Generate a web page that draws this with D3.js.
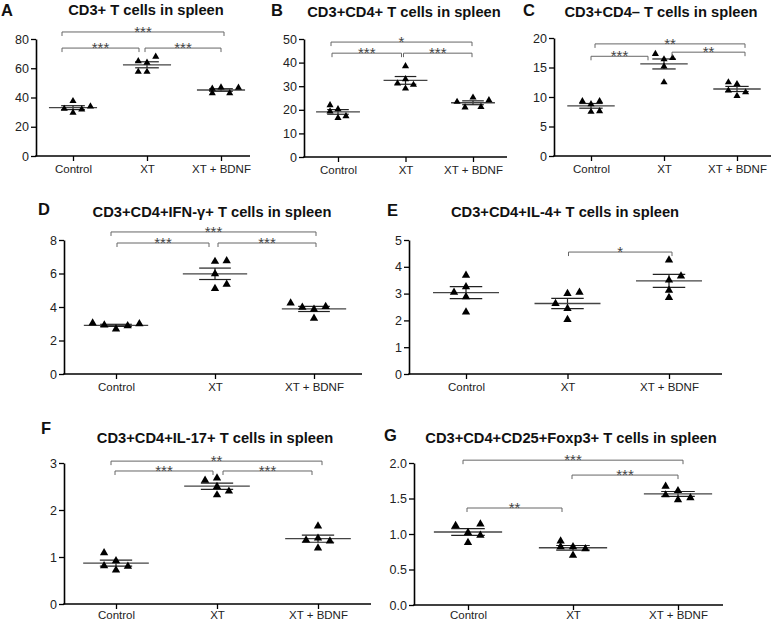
<!DOCTYPE html>
<html><head><meta charset="utf-8">
<script src="https://cdn.jsdelivr.net/npm/d3@7"></script>
<style>body{margin:0;background:#fff} svg{display:block}</style>
</head><body><svg id="c" width="774" height="622"></svg>
<script>
// ---------------- DATA ----------------
const categories = ["Control", "XT", "XT + BDNF"];
const panelLetters = ["A", "B", "C", "D", "E", "F", "G"];
const panelTitles = [
  "CD3+ T cells in spleen",
  "CD3+CD4+ T cells in spleen",
  "CD3+CD4\u2013 T cells in spleen",
  "CD3+CD4+IFN-\u03b3+ T cells in spleen",
  "CD3+CD4+IL-4+ T cells in spleen",
  "CD3+CD4+IL-17+ T cells in spleen",
  "CD3+CD4+CD25+Foxp3+ T cells in spleen"
];
const yMax = [80, 50, 20, 8, 5, 3, 2];
const yTickStep = [20, 10, 5, 2, 1, 1, 0.5];
const yTickFormat = ["d", "d", "d", "d", "d", "d", ".1f"];

const valuesA = [[37.6, 32.3, 31.9, 29.6, 33.9], [64.9, 63.8, 67.9, 57.6, 57.6], [46.0, 46.9, 46.7, 43.0, 43.0]];
const valuesB = [[22.0, 20.3, 19.3, 16.6, 17.3], [38.5, 33.0, 31.2, 30.6, 29.0], [23.4, 25.2, 24.1, 21.0, 21.2]];
const valuesC = [[9.3, 8.8, 9.3, 7.5, 7.6], [17.3, 16.4, 16.6, 15.2, 12.5], [12.5, 12.2, 11.1, 10.8, 10.2]];
const valuesD = [[3.04, 2.92, 2.68, 2.88, 3.0], [6.72, 6.76, 5.98, 5.1, 5.35], [4.24, 3.98, 3.86, 4.02, 3.32]];
const valuesE = [[3.05, 3.68, 3.25, 2.88, 2.31], [2.63, 3.0, 3.05, 2.44, 2.03], [4.25, 3.5, 3.65, 3.12, 2.85]];
const valuesF = [[1.09, 0.92, 0.81, 0.72, 0.8], [2.63, 2.68, 2.5, 2.4, 2.32], [1.66, 1.36, 1.4, 1.34, 1.19]];
const valuesG = [[1.12, 1.14, 1.02, 0.98, 0.88], [0.9, 0.82, 0.82, 0.79, 0.7], [1.67, 1.55, 1.61, 1.48, 1.51]];
const allValues = [valuesA, valuesB, valuesC, valuesD, valuesE, valuesF, valuesG];

// significance brackets: group a vs group b, bracket height in data units, label
const sigA = [{a: 0, b: 1, y: 73.8, label: "***"}, {a: 1, b: 2, y: 73.8, label: "***"}, {a: 0, b: 2, y: 84.8, label: "***"}];
const sigB = [{a: 0, b: 1, y: 44.0, label: "***"}, {a: 1, b: 2, y: 44.0, label: "***"}, {a: 0, b: 2, y: 48.7, label: "*"}];
const sigC = [{a: 0, b: 1, y: 16.9, label: "***"}, {a: 1, b: 2, y: 17.6, label: "**"}, {a: 0, b: 2, y: 19.0, label: "**"}];
const sigD = [{a: 0, b: 1, y: 7.82, label: "***"}, {a: 1, b: 2, y: 7.82, label: "***"}, {a: 0, b: 2, y: 8.48, label: "***"}];
const sigE = [{a: 1, b: 2, y: 4.55, label: "*"}];
const sigF = [{a: 0, b: 1, y: 2.83, label: "***"}, {a: 1, b: 2, y: 2.83, label: "***"}, {a: 0, b: 2, y: 3.04, label: "**"}];
const sigG = [{a: 0, b: 1, y: 1.366, label: "**"}, {a: 1, b: 2, y: 1.83, label: "***"}, {a: 0, b: 2, y: 2.04, label: "***"}];
const allSig = [sigA, sigB, sigC, sigD, sigE, sigF, sigG];

// ---------------- LAYOUT (positions/styles) ----------------
const layout = [
  {x0: 36,  x1: 250, c0: 73,  c2: 221, yt: 39,  yb: 156, tx: 146, ty: 15,  lx: 1,   ly: 15.5, sym: 22, xpad: 4},
  {x0: 304, x1: 507, c0: 338, c2: 473, yt: 39,  yb: 157, tx: 404, ty: 17,  lx: 271, ly: 15.5, sym: 22, xpad: 4},
  {x0: 554, x1: 771, c0: 591, c2: 737, yt: 38,  yb: 156, tx: 661, ty: 17,  lx: 523, ly: 15.5, sym: 22, xpad: 4},
  {x0: 64,  x1: 362, c0: 116, c2: 314, yt: 240, yb: 374, tx: 212, ty: 217, lx: 38,  ly: 215, sym: 30, xpad: 4},
  {x0: 409, x1: 722, c0: 466, c2: 669, yt: 240, yb: 374, tx: 565, ty: 217, lx: 387, ly: 216, sym: 30, xpad: 4},
  {x0: 64,  x1: 371, c0: 116, c2: 318, yt: 463, yb: 604, tx: 215, ty: 443, lx: 41,  ly: 434, sym: 30, xpad: 1.5},
  {x0: 414, x1: 723, c0: 468, c2: 678, yt: 463, yb: 605, tx: 571, ty: 443, lx: 384, ly: 441, sym: 30, xpad: 0.5}
];
// horizontal dodge slots of each point (Prism-like scatter)
const dodge = [
  [[0, -1, 1, 0, 2], [-1, 0, 1, -1, 0], [-1, 0, 2, -1, 1]],
  [[-1, 0, -1, 0, 1], [0, 0, -1, 1, 0], [-2, 0, 2, -1, 1]],
  [[-1, 0, 1, 0, 1], [-1, 0, 1, 0, 0], [-1, 0, -1, 1, 0]],
  [[-2, -1, 0, 1, 2], [0, 1, 0, 0, 1], [-2, -1, 0, 1, 0]],
  [[-1, 0, 0, 0, 0], [-1, 0, 1, 0, 0], [0, 0, 1, 0, 0]],
  [[-1, 0, -1, 0, 1], [-1, 0, 0, 1, 0], [0, -1, 0, 1, 0]],
  [[-1, 1, 0, 1, 0], [-1, -1, 0, 1, 0], [-1, -1, 0, 0, 1]]
];
// bracket end nudges in px [left, right]
const sigNudge = [
  [[-11, -8], [-2, 0], [-11, 3]],
  [[-6, -4], [-2, -1], [-7, -1]],
  [[0, -16], [8, 8], [4, 8]],
  [[1, -6], [3, 2], [-5, 2]],
  [[1, 3]],
  [[-1, -4], [6, -6], [-5, 4]],
  [[-1, -11], [-1, 0], [-5, 5]]
];

const FONT = "'Liberation Sans', Arial, Helvetica, sans-serif";
const svg = d3.select("#c");

allValues.forEach((vals, p) => {
  const L = layout[p];
  const g = svg.append("g");
  const x = d3.scalePoint().domain(categories).range([L.c0, L.c2]);
  const step = x.step();
  const y = d3.scaleLinear().domain([0, yMax[p]]).range([L.yb, L.yt]);
  const ticks = d3.range(0, yMax[p] + yTickStep[p] / 2, yTickStep[p]);

  // y axis
  const ya = g.append("g").attr("transform", `translate(${L.x0},0)`)
    .call(d3.axisLeft(y).tickValues(ticks).tickFormat(d3.format(yTickFormat[p])).tickSize(5).tickSizeOuter(0).tickPadding(2));
  ya.select(".domain").attr("stroke", "#000").attr("stroke-width", 1.6);
  ya.selectAll(".tick line").attr("stroke", "#000").attr("stroke-width", 1.3);
  ya.selectAll(".tick text").attr("font-family", FONT).attr("font-size", 12.5).attr("fill", "#222");

  // x axis
  const xa = g.append("g").attr("transform", `translate(0,${L.yb})`)
    .call(d3.axisBottom(x).tickSize(5).tickSizeOuter(0).tickPadding(L.xpad));
  xa.select(".domain").attr("d", `M${L.x0 - 0.8},0H${L.x1}`).attr("stroke", "#000").attr("stroke-width", 1.6);
  xa.selectAll(".tick line").attr("stroke", "#000").attr("stroke-width", 1.3);
  xa.selectAll(".tick text").attr("font-family", FONT).attr("font-size", 11.5).attr("fill", "#222");

  // title and letter
  g.append("text").attr("x", L.tx).attr("y", L.ty).attr("text-anchor", "middle")
    .attr("font-family", FONT).attr("font-weight", "bold").attr("font-size", 14.7).attr("fill", "#111")
    .text(panelTitles[p]);
  g.append("text").attr("x", L.lx).attr("y", L.ly)
    .attr("font-family", FONT).attr("font-weight", "bold").attr("font-size", 16.5).attr("fill", "#111")
    .text(panelLetters[p]);

  // groups
  vals.forEach((arr, gi) => {
    const cx = x(categories[gi]);
    const m = d3.mean(arr);
    const sem = d3.deviation(arr) / Math.sqrt(arr.length);
    const mw = step * 0.325, sw = step * 0.16;
    // SEM
    g.append("line").attr("x1", cx).attr("x2", cx).attr("y1", y(m - sem)).attr("y2", y(m + sem)).attr("stroke", "#222").attr("stroke-width", 1.2);
    [m - sem, m + sem].forEach(v => g.append("line").attr("x1", cx - sw).attr("x2", cx + sw).attr("y1", y(v)).attr("y2", y(v)).attr("stroke", "#222").attr("stroke-width", 1.2));
    // mean
    g.append("line").attr("x1", cx - mw).attr("x2", cx + mw).attr("y1", y(m)).attr("y2", y(m)).attr("stroke", "#444").attr("stroke-width", 1.3);
    // points
    g.selectAll(null).data(arr).enter().append("path")
      .attr("d", d3.symbol().type(d3.symbolTriangle).size(L.sym))
      .attr("transform", (d, i) => `translate(${cx + dodge[p][gi][i] * step * 0.118},${y(d)})`)
      .attr("fill", "#000");
  });

  // significance brackets
  allSig[p].forEach((s, si) => {
    const n = sigNudge[p][si];
    const xa1 = x(categories[s.a]) + n[0], xb1 = x(categories[s.b]) + n[1];
    const yy = y(s.y);
    g.append("path").attr("d", `M${xa1},${yy + 4}V${yy}H${xb1}V${yy + 4}`)
      .attr("fill", "none").attr("stroke", "#666").attr("stroke-width", 1);
    g.append("text").attr("x", (xa1 + xb1) / 2).attr("y", yy + 5).attr("text-anchor", "middle")
      .attr("font-family", FONT).attr("font-size", 15).attr("fill", "#444").text(s.label);
  });
});
</script>
</body></html>
